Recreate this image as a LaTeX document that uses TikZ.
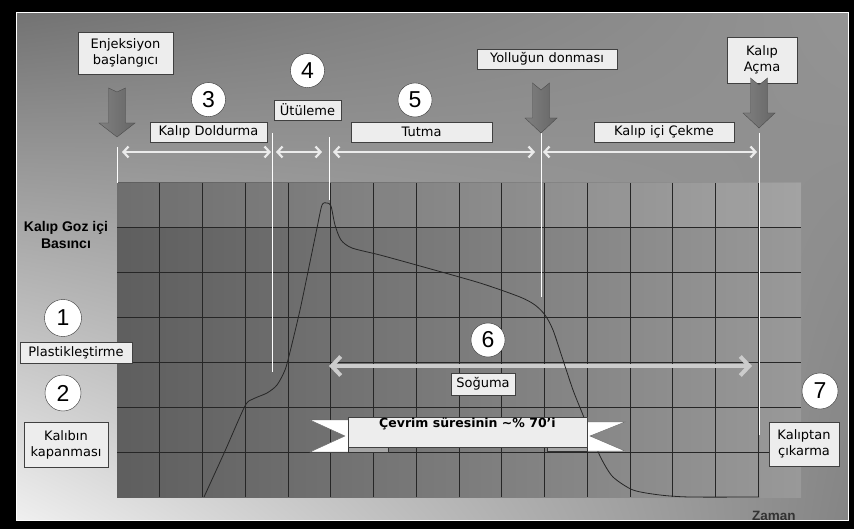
\documentclass[tikz,border=0pt]{standalone}
\usepackage{fontspec}
\setmainfont{DejaVu Sans}
\newfontfamily\numfont{Liberation Sans}
\usetikzlibrary{arrows.meta,positioning,shadows,shadings}
\tikzset{font=\fontsize{13}{16}\selectfont}
\tikzset{lbl/.style={draw=black!75,fill=black!7,inner sep=1pt,align=center,
  drop shadow={shadow xshift=1.2pt,shadow yshift=-1.2pt,opacity=.8,fill=black}}}
\tikzset{num/.style={circle,draw=black!80,fill=white,minimum size=34pt,inner sep=0pt,
  font=\numfont\fontsize{23}{23}\selectfont}}
\tikzset{phase/.style={draw=black!8,line width=2.2pt,
  {Straight Barb[length=5pt,width=11pt]}-{Straight Barb[length=5pt,width=11pt]}}}
\tikzset{tline/.style={draw=white,line width=1pt}}

\begin{document}
\begin{tikzpicture}[x=1pt,y=-1pt]
  \useasboundingbox (0,0) rectangle (854,529);
  \fill[black] (0,0) rectangle (854,529);
  \shade[upper left=black!55,upper right=black!42,lower left=black!6,lower right=black!48]
    (16,13) rectangle (848,520);
  % grid
  \shade[left color=black!63,right color=black!40] (117,183) rectangle (801,497);
  \fill[white,opacity=.1] (117,183) rectangle (801,228);
  \foreach \i in {1,...,15}
    \draw[black!85,line width=.8pt] (117+42.75*\i,183) -- (117+42.75*\i,497);
  \foreach \j in {1,...,6}
    \draw[black!85,line width=.8pt] (117,183+44.86*\j) -- (801,183+44.86*\j);
  % phase borders
  \coordinate (s0t) at (117,147); \coordinate (s0b) at (117,183);
  \coordinate (s1t) at (272,133); \coordinate (s1b) at (272,372);
  \coordinate (s2t) at (329,137); \coordinate (s2b) at (329,200);
  \coordinate (s3t) at (541,133); \coordinate (s3b) at (541,297);
  \coordinate (s4t) at (759,133); \coordinate (s4b) at (759,435);
  \draw[tline] (s0t) -- (s0b);
  \draw[tline] (s1t) -- (s1b);
  \draw[tline] (s2t) -- (s2b);
  \draw[tline] (s3t) -- (s3b);
  \draw[tline] (s4t) -- (s4b);
  \foreach \n/\x in {0/117,1/272,2/329,3/541,4/759}
    \coordinate (p\n) at (\x,152);
  \draw[phase] ([xshift=5pt]p0) -- ([xshift=-1pt]p1);
  \draw[phase] ([xshift=4pt]p1) -- ([xshift=-7pt]p2);
  \draw[phase] ([xshift=4pt]p2) -- ([xshift=-6pt]p3);
  \draw[phase] ([xshift=2pt]p3) -- ([xshift=-2pt]p4);
  \coordinate (q0) at (329,366);
  \coordinate (q1) at (752,366);
  \draw[phase,draw=black!20,line width=4pt,
    {Straight Barb[length=9pt,width=19pt]}-{Straight Barb[length=9pt,width=19pt]}] (q0) -- (q1);
  % pressure curve
  \draw[black!85,line width=.8pt] plot[smooth,tension=.45] coordinates {
    (204,497) (225,451) (245,406) (253,399) (267,393) (277,385) (285,370) (290,352)
    (300,310) (310,262) (317,228) (322,205) (327,203) (331,206) (335,225) (341,240)
    (352,248) (380,255) (420,266) (480,283) (520,297) (535,305) (545,315) (553,330)
    (563,360) (573,390) (583,415) (593,440) (602,460) (613,477) (633,490) (660,495)
    (690,497) (759,497)};
  % labels
  \node[lbl,minimum width=95pt,minimum height=42pt] (enj) at (125.5,53) {Enjeksiyon\\başlangıcı};
  \node[lbl,minimum width=117pt,minimum height=20pt] (dolum) at (208.5,132) {Kalıp Doldurma};
  \node[lbl,minimum width=67pt,minimum height=20pt] (utu) at (307.5,110) {Ütüleme};
  \node[lbl,minimum width=141pt,minimum height=20pt] (tutma) at (421.5,132) {Tutma};
  \node[lbl,minimum width=140pt,minimum height=20pt] (yolluk) at (547,59) {Yolluğun donması};
  \node[lbl,minimum width=140pt,minimum height=20pt] (cekme) at (664,132) {Kalıp içi Çekme};
  \node[lbl,minimum width=70pt,minimum height=46pt] (acma) at (762,60) {Kalıp\\Açma};
  \node[lbl,minimum width=112pt,minimum height=21pt] (plastik) at (76,352.5) {Plastikleştirme};
  \node[lbl,minimum width=84pt,minimum height=45pt] (kapanma) at (66,444.5) {Kalıbın\\kapanması};
  \node[lbl,minimum width=64pt,minimum height=22pt] (soguma) at (483,384) {Soğuma};
  \node[lbl,minimum width=70pt,minimum height=44pt] (cikarma) at (804,444) {Kalıptan\\çıkarma};
  \node[font=\numfont\bfseries\fontsize{14}{16.5}\selectfont,align=center] (basinc) at (66,235) {Kalıp Goz içi\\Basıncı};
  \node[font=\numfont\bfseries\fontsize{13.5}{15}\selectfont,text=black!80,anchor=base west,inner sep=0pt]
    (zaman) at (752,520) {Zaman};
  \draw[white,line width=1pt] (16,13) rectangle (848,520);
  % numbers
  \node[num,above=5pt of dolum] (n3) {3};
  \node[num,above=12pt of utu] (n4) {4};
  \node[num] (n5) at (415,100) {5};
  \node[num,minimum size=37pt] (n1) at (63,318) {1};
  \node[num,minimum size=36pt] (n2) at (63,393) {2};
  \node[num] (n6) at (488,340) {6};
  \node[num,minimum size=36pt] (n7) at (820,391) {7};
  % down arrows
  \shade[left color=black!50,middle color=black!8,right color=black!60,draw=black!70]
    (108.5,88) -- (117,92) -- (125.5,88) -- (125.5,123) -- (135,123) -- (117,137)
    -- (99,123) -- (108.5,123) -- cycle;
  \shade[left color=black!50,middle color=black!8,right color=black!60,draw=black!70]
    (532.5,83) -- (541,90) -- (549.5,83) -- (549.5,118) -- (557,118) -- (541,133)
    -- (525,118) -- (532.5,118) -- cycle;
  \shade[left color=black!50,middle color=black!8,right color=black!60,draw=black!70]
    (750.5,78) -- (759,85) -- (767.5,78) -- (767.5,113) -- (775,113) -- (759,128)
    -- (743,113) -- (750.5,113) -- cycle;
  % banner
  \draw[black!60,fill=white] (310,420) -- (350,420) -- (350,452) -- (310,452) -- (345,436) -- cycle;
  \draw[black!60,fill=white] (625,422) -- (585,422) -- (585,451) -- (625,451) -- (590,436) -- cycle;
  \draw[black!80,fill=black!35] (348,438) rectangle (388,452);
  \draw[black!80,fill=black!35] (547,438) rectangle (587,451);
  \node[lbl,minimum width=239pt,text height=9pt,text depth=19pt,
    font=\bfseries\fontsize{12.5}{14}\selectfont] (cevrim) at (467.5,432)
    {Çevrim süresinin \textasciitilde\% 70'i};
\end{tikzpicture}
\end{document}
